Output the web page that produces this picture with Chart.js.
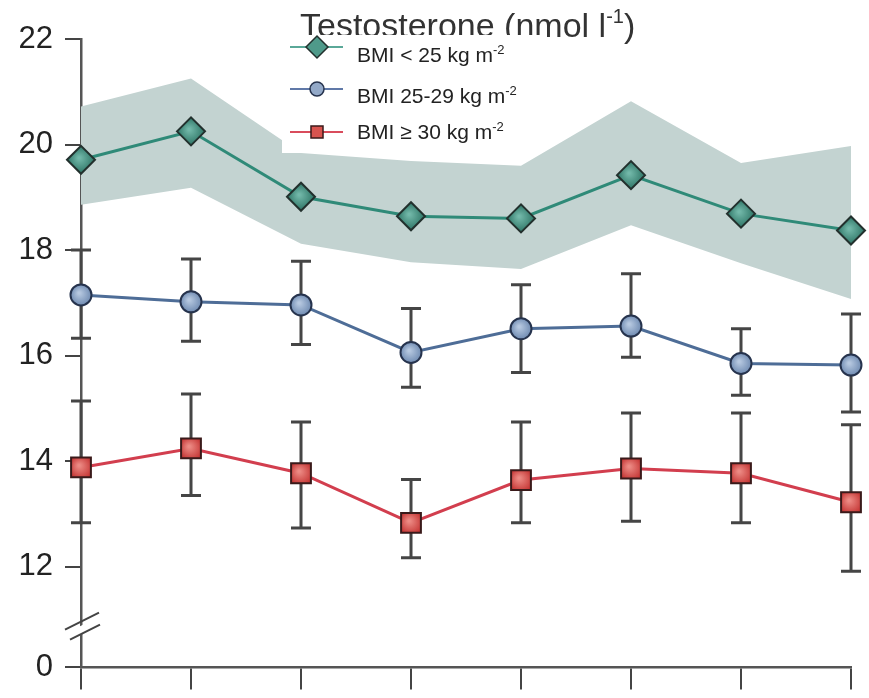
<!DOCTYPE html>
<html>
<head>
<meta charset="utf-8">
<title>Testosterone by BMI</title>
<script src="https://cdn.jsdelivr.net/npm/chart.js@4.4.1/dist/chart.umd.min.js"></script>
<style>
  html, body { margin: 0; padding: 0; background: #fff; }
  #wrap { width: 869px; height: 698px; }
</style>
</head>
<body>
<div id="wrap"><canvas id="chart" width="869" height="698"></canvas></div>
<script>
// values (nmol/l), 8 visits
const visits = ['1', '2', '3', '4', '5', '6', '7', '8'];

// BMI < 25 : mean + shaded band
const normalMean  = [19.71, 20.25, 19.01, 18.64, 18.60, 19.42, 18.69, 18.37];
const normalUpper = [20.72, 21.25, 19.84, 19.69, 19.60, 20.82, 19.65, 19.97];
const normalLower = [18.86, 19.18, 18.12, 17.77, 17.64, 18.47, 17.75, 17.07];

// BMI 25-29 : mean + error bars
const overMean = [17.15, 17.02, 16.96, 16.06, 16.51, 16.56, 15.85, 15.82];
const overHigh = [18.00, 17.83, 17.79, 16.89, 17.34, 17.55, 16.51, 16.79];
const overLow  = [16.33, 16.27, 16.21, 15.40, 15.68, 15.97, 15.25, 14.93];

// BMI >= 30 : mean + error bars
const obeseMean = [13.88, 14.24, 13.77, 12.83, 13.64, 13.86, 13.77, 13.22];
const obeseHigh = [15.14, 15.27, 14.74, 13.65, 14.74, 14.91, 14.91, 14.69];
const obeseLow  = [12.83, 13.35, 12.73, 12.17, 12.83, 12.86, 12.83, 11.91];

const seriesNames = ['BMI < 25 kg m', 'BMI 25-29 kg m', 'BMI \u2265 30 kg m'];
const unitSup = '-2';
const titleText = 'Testosterone (nmol l';
const titleSup = '-1';

// the axis is broken between 12 and 0 : "0" sits at this value
const AXIS_ZERO = 10.09;
const BREAK_AT = 10.88;
const yTickValues = [AXIS_ZERO, 12, 14, 16, 18, 20, 22];
const yTickLabels = ['0', '12', '14', '16', '18', '20', '22'];

const FONT = '"Liberation Sans", Arial, Helvetica, sans-serif';

// radial gradient fill for each marker, centred on the point
function markerFill(inner, outer, r) {
    return function (ctx) {
        const chart = ctx.chart;
        if (ctx.type !== 'data' || !chart.chartArea || !ctx.parsed) return outer;
        const x = chart.scales.x.getPixelForValue(ctx.dataIndex);
        const y = chart.scales.y.getPixelForValue(ctx.parsed.y);
        const g = chart.ctx.createRadialGradient(x - 2, y - 2, 1, x, y, r);
        g.addColorStop(0, inner);
        g.addColorStop(1, outer);
        return g;
    };
}

const errorBarPlugin = {
    id: 'errorBars',
    beforeDatasetDraw(chart, args) {
        const ds = chart.data.datasets[args.index];
        if (!ds.errLow) return;
        const y = chart.scales.y;
        const c = chart.ctx;
        c.save();
        c.strokeStyle = '#454545';
        c.lineWidth = 3;
        args.meta.data.forEach((pt, i) => {
            const top = y.getPixelForValue(ds.errHigh[i]);
            const bot = y.getPixelForValue(ds.errLow[i]);
            c.beginPath();
            c.moveTo(pt.x, top); c.lineTo(pt.x, bot);
            c.moveTo(pt.x - 10, top); c.lineTo(pt.x + 10, top);
            c.moveTo(pt.x - 10, bot); c.lineTo(pt.x + 10, bot);
            c.stroke();
        });
        c.restore();
    }
};

function drawRich(c, x, y, parts, color) {
    c.fillStyle = color;
    c.textBaseline = 'alphabetic';
    c.textAlign = 'left';
    parts.forEach(p => {
        c.font = p[1] + 'px ' + FONT;
        c.fillText(p[0], x, y + p[2]);
        x += c.measureText(p[0]).width;
    });
}

const figurePlugin = {
    id: 'figureText',
    beforeDraw(chart) {
        const c = chart.ctx;
        c.save();
        c.fillStyle = '#fff';
        c.fillRect(0, 0, chart.width, chart.height);
        drawRich(c, 300, 37, [[titleText, 34, 0], [titleSup, 20, -14], [')', 34, 0]], '#333');
        c.restore();
    },
    afterDraw(chart) {
        const c = chart.ctx;
        const area = chart.chartArea;
        const y = chart.scales.y;
        c.save();

        // axis break marks
        const yb = y.getPixelForValue(BREAK_AT);
        const x0 = area.left;
        c.fillStyle = '#fff';
        c.beginPath();
        c.moveTo(x0 - 4, yb + 2); c.lineTo(x0 + 4, yb - 2);
        c.lineTo(x0 + 4, yb + 7); c.lineTo(x0 - 4, yb + 11);
        c.closePath(); c.fill();
        c.strokeStyle = '#444';
        c.lineWidth = 2;
        c.beginPath();
        c.moveTo(x0 - 16, yb + 4); c.lineTo(x0 + 18, yb - 13);
        c.moveTo(x0 - 11, yb + 14); c.lineTo(x0 + 19, yb - 1);
        c.stroke();

        // legend box, lying over the title as in the figure
        c.fillStyle = '#fff';
        c.fillRect(282, 35, 258, 118);
        const rows = [47, 89, 132];
        const ds = chart.data.datasets;
        const legendLine = ['#5aa898', '#6079a8', '#d94c5c'];
        const legendR = [11, 7, 8.5];
        rows.forEach((ry, i) => {
            c.strokeStyle = legendLine[i];
            c.lineWidth = 2;
            c.beginPath(); c.moveTo(290, ry); c.lineTo(343, ry); c.stroke();
            c.fillStyle = ds[i].legendFill;
            c.strokeStyle = ds[i].pointBorderColor;
            c.lineWidth = 1.5;
            Chart.helpers.drawPoint(c, { pointStyle: ds[i].pointStyle, radius: legendR[i], rotation: 0, borderWidth: 1.5 }, 317, ry);
            drawRich(c, 357, ry + 14 - (i === 2 ? 7 : 0) + (i === 0 ? 1 : 0), [[seriesNames[i], 21, 0], [unitSup, 13, -8]], '#222');
        });
        c.restore();
    }
};

const ctx = document.getElementById('chart').getContext('2d');
new Chart(ctx, {
    type: 'line',
    data: {
        labels: visits,
        datasets: [
            {
                label: seriesNames[0] + unitSup,
                data: normalMean,
                borderColor: '#2f8a78',
                borderWidth: 3,
                pointStyle: 'rectRot',
                pointRadius: 14,
                pointBorderColor: '#22302d',
                pointBorderWidth: 2,
                pointBackgroundColor: markerFill('#72b8a9', '#2c7364', 14),
                legendFill: '#4f9a8a',
                fill: false,
                clip: false
            },
            {
                label: seriesNames[1] + unitSup,
                data: overMean,
                errLow: overLow,
                errHigh: overHigh,
                borderColor: '#4e6d97',
                borderWidth: 3,
                pointStyle: 'circle',
                pointRadius: 10.5,
                pointBorderColor: '#26334d',
                pointBorderWidth: 2,
                pointBackgroundColor: markerFill('#b6c8e0', '#6d89b0', 11),
                legendFill: '#93a9c8',
                fill: false,
                clip: false
            },
            {
                label: seriesNames[2] + unitSup,
                data: obeseMean,
                errLow: obeseLow,
                errHigh: obeseHigh,
                borderColor: '#d23e4e',
                borderWidth: 3,
                pointStyle: 'rect',
                pointRadius: 14,
                pointBorderColor: '#3a1a1a',
                pointBorderWidth: 2,
                pointBackgroundColor: markerFill('#ec8a84', '#c2302f', 13),
                legendFill: '#d8544f',
                fill: false,
                clip: false
            },
            {
                label: 'upper',
                data: normalUpper,
                borderWidth: 0,
                borderColor: 'rgba(0,0,0,0)',
                pointRadius: 0,
                fill: false
            },
            {
                label: 'lower',
                data: normalLower,
                borderWidth: 0,
                borderColor: 'rgba(0,0,0,0)',
                pointRadius: 0,
                backgroundColor: '#c3d3d1',
                fill: '-1'
            }
        ]
    },
    options: {
        responsive: false,
        animation: false,
        events: [],
        layout: { padding: { top: 39, right: 18, left: 0, bottom: 0 } },
        plugins: {
            legend: { display: false },
            tooltip: { enabled: false },
            title: { display: false }
        },
        scales: {
            x: {
                type: 'category',
                offset: false,
                ticks: { display: false },
                grid: { drawOnChartArea: false, tickLength: 22, color: '#444', lineWidth: 2 },
                border: { color: '#555', width: 2.5 }
            },
            y: {
                min: AXIS_ZERO,
                max: 22,
                afterBuildTicks: scale => { scale.ticks = yTickValues.map(v => ({ value: v })); },
                afterFit: scale => { scale.width = 81; },
                ticks: {
                    callback: (v, i) => yTickLabels[i],
                    font: { size: 31, family: FONT },
                    color: '#222',
                    padding: 12
                },
                grid: { drawOnChartArea: false, tickLength: 16, color: '#444', lineWidth: 2 },
                border: { color: '#555', width: 2.5 }
            }
        }
    },
    plugins: [errorBarPlugin, figurePlugin]
});
</script>
</body>
</html>
